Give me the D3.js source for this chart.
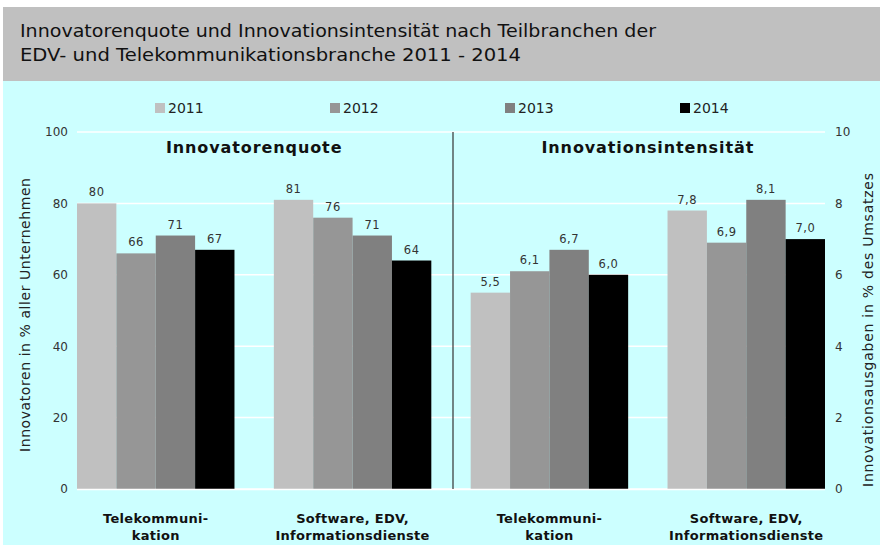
<!DOCTYPE html>
<html>
<head>
<meta charset="utf-8">
<script src="https://cdn.jsdelivr.net/npm/d3@7"></script>
<style>
  body { margin: 0; background: #fff; }
  svg { display: block; }
</style>
</head>
<body>
<svg id="chart" width="880" height="545"></svg>
<script>
// data
const years = ["2011", "2012", "2013", "2014"];
const branchLabels = [["Telekommuni-", "kation"], ["Software, EDV,", "Informationsdienste"]];
const quoteTele = [80, 66, 71, 67];
const quoteSoft = [81, 76, 71, 64];
const intensTele = [5.5, 6.1, 6.7, 6.0];
const intensSoft = [7.8, 6.9, 8.1, 7.0];
const leftTicks = [0, 20, 40, 60, 80, 100];
const rightTicks = [0, 2, 4, 6, 8, 10];

const colors = ["#c0c0c0", "#969696", "#808080", "#000000"];

const groups = [
  {key: "q0", label: branchLabels[0], values: quoteTele, axis: "left"},
  {key: "q1", label: branchLabels[1], values: quoteSoft, axis: "left"},
  {key: "i0", label: branchLabels[0], values: intensTele, axis: "right"},
  {key: "i1", label: branchLabels[1], values: intensSoft, axis: "right"}
];

const svg = d3.select("#chart");
const font = "DejaVu Sans, Verdana, sans-serif";

// backgrounds
svg.append("rect").attr("x", 3).attr("y", 7).attr("width", 877).attr("height", 74).attr("fill", "#c0c0c0");
svg.append("rect").attr("x", 3).attr("y", 81).attr("width", 877).attr("height", 464).attr("fill", "#ccffff");

// title
const title = svg.append("text")
  .attr("font-family", font)
  .attr("font-size", 18.5)
  .attr("fill", "#111");
title.append("tspan").attr("x", 20).attr("y", 37)
  .attr("textLength", 636).attr("lengthAdjust", "spacingAndGlyphs")
  .text("Innovatorenquote und Innovationsintensität nach Teilbranchen der");
title.append("tspan").attr("x", 20).attr("y", 61)
  .attr("textLength", 501).attr("lengthAdjust", "spacingAndGlyphs")
  .text("EDV- und Telekommunikationsbranche 2011 - 2014");

const plotTop = 132, plotBottom = 489, plotLeft = 77, plotRight = 825;

const x = d3.scaleBand().domain(groups.map(g => g.key)).range([plotLeft, plotRight]).paddingInner(0.2).paddingOuter(0);
const xYear = d3.scaleBand().domain(years).range([0, x.bandwidth()]).padding(0);
const yLeft = d3.scaleLinear().domain([0, 100]).range([plotBottom, plotTop]);
const yRight = d3.scaleLinear().domain([0, 10]).range([plotBottom, plotTop]);

// gridlines
svg.append("g").selectAll("line").data(leftTicks).join("line")
  .attr("x1", plotLeft).attr("x2", plotRight)
  .attr("y1", d => yLeft(d)).attr("y2", d => yLeft(d))
  .attr("stroke", "#fff").attr("stroke-width", 1.5);

// axes
const axL = svg.append("g").attr("transform", `translate(${plotLeft},0)`)
  .call(d3.axisLeft(yLeft).tickValues(leftTicks).tickSize(0).tickPadding(9));
const axR = svg.append("g").attr("transform", `translate(${plotRight},0)`)
  .call(d3.axisRight(yRight).tickValues(rightTicks).tickSize(0).tickPadding(10).tickFormat(d3.format("d")));
[axL, axR].forEach(a => {
  a.select(".domain").remove();
  a.selectAll("text").attr("font-family", font).attr("font-size", 12).attr("fill", "#333");
});

// bars
const fmtL = d3.format("d");
const fmtR = v => d3.format(".1f")(v).replace(".", ",");

const gg = svg.append("g").selectAll("g").data(groups).join("g")
  .attr("transform", d => `translate(${x(d.key)},0)`);

gg.each(function(g) {
  const y = g.axis === "left" ? yLeft : yRight;
  const fmt = g.axis === "left" ? fmtL : fmtR;
  const sel = d3.select(this);
  const rows = years.map((yr, i) => ({yr, v: g.values[i], c: colors[i]}));
  sel.selectAll("rect").data(rows).join("rect")
    .attr("x", d => xYear(d.yr))
    .attr("y", d => y(d.v))
    .attr("width", xYear.bandwidth())
    .attr("height", d => plotBottom - y(d.v))
    .attr("fill", d => d.c);
  sel.selectAll("text.val").data(rows).join("text")
    .attr("class", "val")
    .attr("x", d => xYear(d.yr) + xYear.bandwidth() / 2)
    .attr("y", d => y(d.v) - 7)
    .attr("text-anchor", "middle")
    .attr("font-family", font).attr("font-size", 11.5).attr("fill", "#333")
    .attr("letter-spacing", 0.5)
    .text(d => fmt(d.v));
  const lab = sel.append("text")
    .attr("text-anchor", "middle")
    .attr("font-family", font).attr("font-size", 13).attr("font-weight", "bold").attr("fill", "#111")
    .attr("letter-spacing", 0.3);
  g.label.forEach((ln, i) => {
    lab.append("tspan").attr("x", x.bandwidth() / 2).attr("y", 523 + i * 17).text(ln);
  });
});

// baseline
svg.append("line").attr("x1", plotLeft).attr("x2", plotRight).attr("y1", plotBottom + 0.5).attr("y2", plotBottom + 0.5)
  .attr("stroke", "#fff").attr("stroke-width", 1.5);

// divider
const divX = (x("q1") + x.bandwidth() + x("i0")) / 2 + 2;
svg.append("line").attr("x1", divX).attr("x2", divX).attr("y1", plotTop).attr("y2", plotBottom)
  .attr("stroke", "#333").attr("stroke-width", 1.2);

// panel titles
const panels = [["Innovatorenquote", "q0", "q1"], ["Innovationsintensität", "i0", "i1"]];
svg.append("g").selectAll("text").data(panels).join("text")
  .attr("x", d => (x(d[1]) + x(d[2]) + x.bandwidth()) / 2)
  .attr("y", 153)
  .attr("text-anchor", "middle")
  .attr("font-family", font).attr("font-size", 16).attr("font-weight", "bold").attr("fill", "#111")
  .attr("letter-spacing", 0.9)
  .text(d => d[0]);

// legend
const lg = svg.append("g").selectAll("g").data(years).join("g")
  .attr("transform", (d, i) => `translate(${155 + i * 175},103)`);
lg.append("rect").attr("width", 10).attr("height", 10).attr("fill", (d, i) => colors[i]);
lg.append("text").attr("x", 13).attr("y", 10)
  .attr("font-family", font).attr("font-size", 14).attr("fill", "#222")
  .text(d => d);

// y axis titles
svg.append("text")
  .attr("transform", "translate(30,315) rotate(-90)")
  .attr("text-anchor", "middle")
  .attr("font-family", font).attr("font-size", 14).attr("fill", "#222")
  .attr("textLength", 274).attr("lengthAdjust", "spacing")
  .text("Innovatoren in % aller Unternehmen");
svg.append("text")
  .attr("transform", "translate(873,330) rotate(-90)")
  .attr("text-anchor", "middle")
  .attr("font-family", font).attr("font-size", 14).attr("fill", "#222")
  .attr("textLength", 314).attr("lengthAdjust", "spacing")
  .text("Innovationsausgaben in % des Umsatzes");
</script>
</body>
</html>
